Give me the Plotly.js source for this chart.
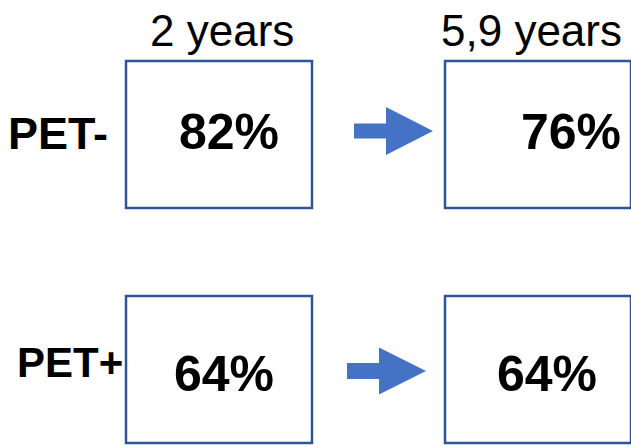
<!DOCTYPE html>
<html>
<head>
<meta charset="utf-8">
<script src="https://cdn.plot.ly/plotly-3.0.1.min.js"></script>
<style>html,body{margin:0;padding:0;background:#fff;}#chart{width:631px;height:446px;}</style>
</head>
<body>
<div id="chart"></div>
<script>
// Data
const periods = ['2 years', '5,9 years'];
const groups = ['PET-', 'PET+'];
const survivalPetNeg = [82, 76];
const survivalPetPos = [64, 64];

// Layout geometry (pixel-space axes)
const boxX = [[126, 312], [445, 631]];
const boxY = [[61, 208], [296, 443]];
const valueX = [[229, 571], [224, 547]];
const valueY = [132, 374];
const labelX = [58, 70];
const labelY = [133, 362];
const labelSize = [45, 42];
const periodX = [222, 531];
const arrows = [
  {x0: 354, xb: 386, xt: 433, yc: 131, sh: 7.5, hh: 24},
  {x0: 347, xb: 379, xt: 426, yc: 371, sh: 8, hh: 23.5}
];

const values = [survivalPetNeg, survivalPetPos];
const shapes = [];
for (let r = 0; r < 2; r++) {
  for (let c = 0; c < 2; c++) {
    shapes.push({type: 'rect', xref: 'x', yref: 'y', x0: boxX[c][0], x1: boxX[c][1], y0: boxY[r][0], y1: boxY[r][1],
      line: {color: '#2F5597', width: 2.5}, fillcolor: 'rgba(0,0,0,0)'});
  }
  const a = arrows[r];
  shapes.push({type: 'path', xref: 'x', yref: 'y',
    path: `M${a.x0},${a.yc - a.sh} L${a.xb},${a.yc - a.sh} L${a.xb},${a.yc - a.hh} L${a.xt},${a.yc} L${a.xb},${a.yc + a.hh} L${a.xb},${a.yc + a.sh} L${a.x0},${a.yc + a.sh} Z`,
    fillcolor: '#4472C4', line: {width: 0}});
}

const font = 'Liberation Sans, Arial, sans-serif';
const annotations = [];
periods.forEach((p, i) => annotations.push({x: periodX[i], y: 30, xref: 'x', yref: 'y', text: p, showarrow: false,
  xanchor: 'center', yanchor: 'middle', font: {family: font, size: 44, color: '#000'}}));
groups.forEach((g, r) => annotations.push({x: labelX[r], y: labelY[r], xref: 'x', yref: 'y', text: '<b>' + g + '</b>', showarrow: false,
  xanchor: 'center', yanchor: 'middle', font: {family: font, size: labelSize[r], color: '#000'}}));
values.forEach((row, r) => row.forEach((v, c) => annotations.push({x: valueX[r][c], y: valueY[r], xref: 'x', yref: 'y',
  text: '<b>' + v + '%</b>', showarrow: false, xanchor: 'center', yanchor: 'middle',
  font: {family: font, size: 50, color: '#000'}})));

Plotly.newPlot('chart', [{x: [], y: [], type: 'scatter', hoverinfo: 'skip'}], {
  width: 631, height: 446,
  margin: {l: 0, r: 0, t: 0, b: 0},
  paper_bgcolor: '#fff', plot_bgcolor: '#fff',
  showlegend: false,
  xaxis: {range: [0, 631], visible: false, fixedrange: true},
  yaxis: {range: [446, 0], visible: false, fixedrange: true},
  shapes: shapes,
  annotations: annotations
}, {staticPlot: true, displayModeBar: false});
</script>
</body>
</html>
